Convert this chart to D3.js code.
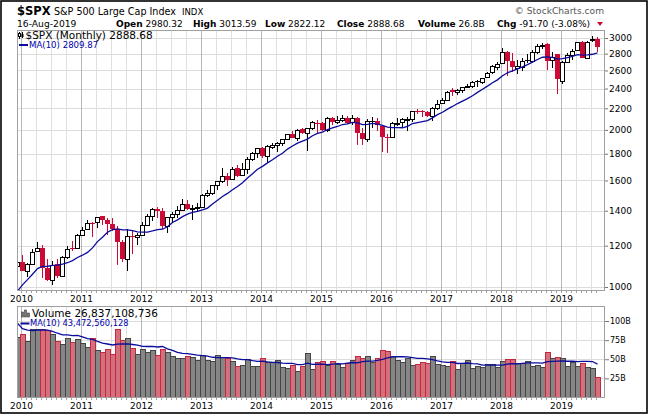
<!DOCTYPE html>
<html>
<head>
<meta charset="utf-8">
<script src="https://cdn.jsdelivr.net/npm/d3@7"></script>
<style>
  body { margin: 0; background: #fff; }
  svg { display: block; }
  text { font-family: "DejaVu Sans", Verdana, sans-serif; }
</style>
</head>
<body>
<div id="wrapper"></div>
<script>
// 1. Data (monthly $SPX, Dec 2009 .. 16-Aug-2019)

const opens = [1098.89,
  1116.56, 1073.89, 1105.36, 1171.23, 1188.58, 1087.30, 1031.10, 1107.53, 1049.72, 1143.49, 1185.71, 1186.60,
  1257.62, 1289.14, 1328.64, 1329.48, 1365.21, 1345.20, 1320.64, 1292.59, 1219.12, 1131.21, 1251.00, 1246.91,
  1258.86, 1312.45, 1365.90, 1408.47, 1397.86, 1309.87, 1362.33, 1379.32, 1406.54, 1440.90, 1412.20, 1416.18,
  1426.19, 1498.11, 1514.68, 1569.18, 1597.55, 1631.71, 1609.78, 1689.42, 1635.95, 1682.41, 1758.70, 1806.55,
  1845.86, 1782.68, 1857.68, 1873.96, 1884.39, 1923.87, 1962.29, 1929.80, 2004.07, 1971.44, 2018.21, 2065.78,
  2058.90, 1996.67, 2105.23, 2067.63, 2087.38, 2108.64, 2067.00, 2104.49, 1970.09, 1919.65, 2080.76, 2082.93,
  2038.20, 1936.94, 1937.09, 2056.62, 2067.17, 2093.94, 2099.34, 2173.15, 2171.33, 2164.33, 2128.68, 2200.17,
  2251.57, 2285.59, 2380.13, 2362.34, 2388.50, 2415.65, 2431.39, 2477.10, 2474.42, 2521.20, 2583.21, 2645.10,
  2683.73, 2816.45, 2715.22, 2633.45, 2642.96, 2718.70, 2704.95, 2821.17, 2896.96, 2926.29, 2717.58, 2790.50,
  2476.96, 2702.32, 2780.67, 2848.63, 2952.33, 2751.53, 2971.41, 2980.32];

const highs = [1130.38,
  1150.45, 1112.42, 1180.16, 1219.80, 1205.13, 1131.23, 1120.95, 1129.24, 1148.90, 1196.14, 1227.08, 1262.60,
  1302.67, 1344.07, 1332.28, 1364.56, 1370.58, 1356.48, 1356.48, 1307.38, 1229.29, 1292.66, 1277.55, 1269.37,
  1333.47, 1378.04, 1419.15, 1422.38, 1415.32, 1363.46, 1391.74, 1426.68, 1474.51, 1470.96, 1434.27, 1448.00,
  1509.94, 1530.94, 1570.28, 1597.57, 1687.18, 1654.19, 1698.78, 1709.67, 1729.86, 1775.22, 1813.55, 1849.44,
  1850.84, 1867.92, 1883.97, 1897.28, 1924.03, 1968.17, 1991.39, 2005.04, 2019.26, 2018.19, 2075.76, 2093.55,
  2072.36, 2119.59, 2117.52, 2125.92, 2134.72, 2129.87, 2132.82, 2112.66, 2020.86, 2094.32, 2116.48, 2104.27,
  2038.20, 1962.96, 2072.21, 2111.05, 2103.48, 2120.55, 2177.09, 2193.81, 2187.87, 2169.60, 2214.10, 2277.53,
  2300.99, 2371.54, 2400.98, 2398.16, 2418.71, 2453.82, 2484.04, 2490.87, 2519.44, 2582.98, 2657.74, 2694.97,
  2872.87, 2835.96, 2801.90, 2717.49, 2742.24, 2791.47, 2848.03, 2916.50, 2940.91, 2939.86, 2815.15, 2800.18,
  2708.95, 2813.49, 2860.31, 2949.52, 2954.13, 2964.15, 3027.98, 3013.59];

const lows = [1085.89,
  1071.59, 1044.50, 1105.36, 1170.69, 1040.78, 1028.33, 1010.91, 1039.70, 1049.72, 1131.87, 1173.00, 1186.60,
  1257.62, 1289.14, 1249.05, 1294.70, 1311.80, 1258.07, 1282.86, 1101.54, 1114.22, 1074.77, 1158.66, 1202.37,
  1258.86, 1312.45, 1340.03, 1357.38, 1291.98, 1266.74, 1325.41, 1354.65, 1396.56, 1403.28, 1343.35, 1398.11,
  1426.19, 1485.01, 1501.48, 1536.03, 1581.28, 1560.33, 1604.57, 1627.47, 1633.41, 1646.47, 1746.20, 1767.99,
  1770.45, 1737.92, 1834.44, 1814.36, 1859.79, 1915.98, 1930.67, 1904.78, 1964.04, 1820.66, 2001.01, 1972.56,
  1988.12, 1980.90, 2039.69, 2048.38, 2067.93, 2056.32, 2044.02, 1867.01, 1871.91, 1893.70, 2019.39, 1993.26,
  1812.29, 1810.10, 1937.09, 2033.80, 2025.91, 1991.68, 2074.02, 2147.58, 2119.12, 2114.72, 2083.79, 2187.44,
  2245.13, 2271.65, 2322.25, 2328.95, 2352.72, 2405.70, 2407.70, 2417.35, 2446.55, 2520.40, 2557.45, 2605.52,
  2682.36, 2532.69, 2585.89, 2553.80, 2594.62, 2691.99, 2698.95, 2796.34, 2864.12, 2603.54, 2631.09, 2346.58,
  2443.96, 2681.83, 2722.27, 2848.63, 2750.52, 2728.81, 2952.22, 2822.12];

const closes = [1115.10,
  1073.87, 1104.49, 1169.43, 1186.69, 1089.41, 1030.71, 1101.60, 1049.33, 1141.20, 1183.26, 1180.55, 1257.64,
  1286.12, 1327.22, 1325.83, 1363.61, 1345.20, 1320.64, 1292.28, 1218.89, 1131.42, 1253.30, 1246.96, 1257.60,
  1312.41, 1365.68, 1408.47, 1397.91, 1310.33, 1362.16, 1379.32, 1406.58, 1440.67, 1412.16, 1416.18, 1426.19,
  1498.11, 1514.68, 1569.19, 1597.57, 1630.74, 1606.28, 1685.73, 1632.97, 1681.55, 1756.54, 1805.81, 1848.36,
  1782.59, 1859.45, 1872.34, 1883.95, 1923.57, 1960.23, 1930.67, 2003.37, 1972.29, 2018.05, 2067.56, 2058.90,
  1994.99, 2104.50, 2067.89, 2085.51, 2107.39, 2063.11, 2103.84, 1972.18, 1920.03, 2079.36, 2080.41, 2043.94,
  1940.24, 1932.23, 2059.74, 2065.30, 2096.95, 2098.86, 2173.60, 2170.95, 2168.27, 2126.15, 2198.81, 2238.83,
  2278.87, 2363.64, 2362.72, 2384.20, 2411.80, 2423.41, 2470.30, 2471.65, 2519.36, 2575.26, 2647.58, 2673.61,
  2823.81, 2713.83, 2640.87, 2648.05, 2705.27, 2718.37, 2816.29, 2901.52, 2913.98, 2711.74, 2760.17, 2506.85,
  2704.10, 2784.49, 2834.40, 2945.83, 2752.06, 2941.76, 2980.38, 2888.68];

// closes Mar..Nov 2009, only needed to start the 10-month average
const priorCloses = [797.87, 872.81, 919.14, 919.32, 987.48, 1020.62, 1057.08, 1036.19, 1095.63];

// volume, billions of shares
const volumes = [79.5,
  82.5, 74, 89, 89, 90, 88, 82.5, 74, 70.5, 78, 73, 77,
  71.5, 66, 78, 62, 60, 63.5, 57.5, 89, 75, 77.5, 64.5, 57.5,
  63, 59, 62, 55.5, 63.5, 59.5, 54, 51.5, 52, 54, 53, 49.5,
  55, 49.5, 48, 55.5, 53, 51.5, 48, 41.5, 43, 50.5, 41, 41,
  51.5, 46, 46, 49, 40, 38.5, 42.5, 35, 41, 58.5, 37, 47,
  47.5, 42.5, 47.5, 43.5, 40, 45, 49, 54.5, 51.5, 54.5, 47, 51.5,
  62.5, 61, 54, 49.5, 47, 51.5, 42.5, 44, 47, 45, 54, 44,
  42, 41, 47.5, 37.5, 44.5, 48.5, 38.5, 41, 40, 43.5, 43.5, 40,
  47.5, 50.5, 50.5, 44.5, 45, 47.5, 41, 42, 40, 60, 52, 53,
  52, 41.5, 47, 41, 45, 40, 38.5, 26.84];

// volume MA(10) for Dec 2009 .. Aug 2010 (earlier bars are off-chart)
const volMaEarly = [97, 90, 88, 87.5, 88, 88.5, 88, 86.5, 84];

const yearLabels = ["2010", "2011", "2012", "2013", "2014", "2015", "2016", "2017", "2018", "2019"];
const priceTicks = [1000, 1200, 1400, 1600, 1800, 2000, 2200, 2400, 2600, 2800, 3000];
const volTicks = [25, 50, 75, 100];

const quoteLabels = ["Open", "High", "Low", "Close", "Volume", "Chg"];
const quoteValues = ["2980.32", "3013.59", "2822.12", "2888.68", "26.8B", "-91.70 (-3.08%)"];

function drawChart() {
  // 2. Dimensions

  const dims = {
    width: 650,
    height: 415,
    left: 17,
    right: 605,
    priceTop: 30.5,
    priceBottom: 290.5,
    volTop: 306.5,
    volBottom: 397.5,
  };

  const upColor = "#000";
  const downColor = "#cc0a35";
  const maColor = "#0b0b9c";

  const months = d3
    .timeMonth.range(new Date(2009, 11, 1), new Date(2019, 8, 1))
    .map(d3.timeFormat("%Y-%m"));

  const allCloses = priorCloses.concat(closes);
  const candles = months.map((m, i) => ({
    month: m,
    open: opens[i],
    high: highs[i],
    low: lows[i],
    close: closes[i],
    prev: allCloses[i + priorCloses.length - 1],
    volume: volumes[i],
  }));
  const priceMa = months.map((m, i) => d3.mean(allCloses.slice(i, i + 10)));
  const volMa = months.map((m, i) =>
    i < volMaEarly.length ? volMaEarly[i] : d3.mean(volumes.slice(i - 9, i + 1))
  );

  // 3. Canvas

  const svg = d3
    .select("#wrapper")
    .append("svg")
    .attr("width", dims.width)
    .attr("height", dims.height);

  svg.append("rect").attr("width", dims.width).attr("height", dims.height).attr("fill", "#fff");

  const defs = svg.append("defs");
  defs.append("clipPath").attr("id", "clip-price").append("rect")
    .attr("x", dims.left).attr("y", dims.priceTop)
    .attr("width", dims.right - dims.left).attr("height", dims.priceBottom - dims.priceTop);
  defs.append("clipPath").attr("id", "clip-vol").append("rect")
    .attr("x", dims.left).attr("y", dims.volTop)
    .attr("width", dims.right - dims.left).attr("height", dims.volBottom - dims.volTop);

  // 4. Scales

  const xScale = d3.scaleBand().domain(months).range([15, 600]);
  const yPrice = d3.scaleLog().domain([1000, 3000]).range([287, 38]);
  const yVol = d3.scaleLinear().domain([0, 100]).range([dims.volBottom, 321]);

  const quarterMonths = months.filter((m) => ["01", "04", "07", "10"].includes(m.slice(5)));
  const snap = (v) => Math.round(v) + 0.5;

  // 5. Grids

  const drawVGrid = (g, top, bottom) => {
    g.selectAll(".vgrid")
      .data(quarterMonths)
      .join("line")
      .attr("class", "vgrid")
      .attr("x1", (d) => xScale(d) + 1.5)
      .attr("x2", (d) => xScale(d) + 1.5)
      .attr("y1", top)
      .attr("y2", bottom)
      .attr("stroke", (d) => (d.endsWith("-01") ? "#b8b8b8" : "#e0e0e0"));
  };

  const priceGrid = svg.append("g");
  priceGrid.selectAll(".hgrid")
    .data(priceTicks)
    .join("line")
    .attr("x1", dims.left).attr("x2", dims.right)
    .attr("y1", (d) => snap(yPrice(d))).attr("y2", (d) => snap(yPrice(d)))
    .attr("stroke", "#dcdcdc");
  drawVGrid(priceGrid, dims.priceTop, dims.priceBottom);

  const volGrid = svg.append("g");
  volGrid.selectAll(".hgrid")
    .data(volTicks)
    .join("line")
    .attr("x1", dims.left).attr("x2", dims.right)
    .attr("y1", (d) => snap(yVol(d))).attr("y2", (d) => snap(yVol(d)))
    .attr("stroke", "#dcdcdc");
  drawVGrid(volGrid, dims.volTop, dims.volBottom);

  // 6. Candles

  const price = svg.append("g").attr("clip-path", "url(#clip-price)");
  const colorOf = (d) => (d.close < d.prev ? downColor : upColor);

  price.selectAll(".wick")
    .data(candles)
    .join("line")
    .attr("x1", (d) => xScale(d.month) + 2.5)
    .attr("x2", (d) => xScale(d.month) + 2.5)
    .attr("y1", (d) => Math.round(yPrice(d.high)))
    .attr("y2", (d) => Math.round(yPrice(d.low)))
    .attr("stroke", colorOf)
    .attr("stroke-width", 1);

  price.selectAll(".body")
    .data(candles)
    .join("rect")
    .each(function (d) {
      const top = Math.round(yPrice(Math.max(d.open, d.close)));
      const bottom = Math.round(yPrice(Math.min(d.open, d.close)));
      const hollow = d.close > d.open;
      const sel = d3.select(this);
      if (hollow) {
        sel.attr("x", xScale(d.month) + 0.5)
          .attr("y", top + 0.5)
          .attr("width", 4)
          .attr("height", Math.max(bottom - top, 1))
          .attr("fill", "#fff")
          .attr("stroke", colorOf(d));
      } else {
        sel.attr("x", xScale(d.month))
          .attr("y", top)
          .attr("width", 5)
          .attr("height", Math.max(bottom - top, 1))
          .attr("fill", colorOf(d));
      }
    });

  const maLine = d3.line()
    .x((d, i) => xScale(months[i]) + 2.5)
    .y((d) => yPrice(d));

  price.append("path")
    .datum(priceMa)
    .attr("d", maLine)
    .attr("fill", "none")
    .attr("stroke", maColor)
    .attr("stroke-width", 1.3);

  // 7. Volume

  const vol = svg.append("g").attr("clip-path", "url(#clip-vol)");
  vol.selectAll(".vbar")
    .data(candles)
    .join("rect")
    .attr("x", (d) => xScale(d.month) + 0.5)
    .attr("y", (d) => snap(yVol(d.volume)))
    .attr("width", 5)
    .attr("height", (d) => dims.volBottom - snap(yVol(d.volume)))
    .attr("fill", (d) => (d.close < d.prev ? "#d4707c" : "#868686"))
    .attr("stroke", (d) => (d.close < d.prev ? "#c2283f" : "#454545"))
    .attr("stroke-width", 1);

  const volLine = d3.line()
    .x((d, i) => xScale(months[i]) + 2.5)
    .y((d) => yVol(d));

  vol.append("path")
    .datum(volMa)
    .attr("d", volLine)
    .attr("fill", "none")
    .attr("stroke", maColor)
    .attr("stroke-width", 1.3);

  // 8. Panel frames and axes

  [[dims.priceTop, dims.priceBottom], [dims.volTop, dims.volBottom]].forEach(([t, b]) => {
    svg.append("rect")
      .attr("x", dims.left + 0.5).attr("y", t)
      .attr("width", dims.right - dims.left - 1).attr("height", b - t)
      .attr("fill", "none").attr("stroke", "#a0a0a0");
  });

  [dims.priceBottom, dims.volBottom].forEach((yb) => {
    svg.append("g").selectAll("line")
      .data(months.filter((m, i) => i > 0))
      .join("line")
      .attr("x1", (d) => xScale(d) + 1.5).attr("x2", (d) => xScale(d) + 1.5)
      .attr("y1", yb).attr("y2", yb + 2.5)
      .attr("stroke", "#a0a0a0");
  });

  const priceAxis = d3.axisRight(yPrice)
    .tickValues(priceTicks)
    .tickSize(3)
    .tickPadding(1)
    .tickFormat(d3.format("d"));
  svg.append("g")
    .attr("transform", `translate(${dims.right},0)`)
    .call(priceAxis)
    .call((g) => g.select(".domain").remove())
    .call((g) => g.selectAll("line").attr("stroke", "#777"))
    .call((g) => g.selectAll("text").attr("fill", "#000"))
    .attr("font-family", "DejaVu Sans")
    .attr("font-size", 9);

  const volAxis = d3.axisRight(yVol)
    .tickValues(volTicks)
    .tickSize(4)
    .tickPadding(1)
    .tickFormat((d) => d + "B");
  svg.append("g")
    .attr("transform", `translate(${dims.right},0)`)
    .call(volAxis)
    .call((g) => g.select(".domain").remove())
    .call((g) => g.selectAll("line").attr("stroke", "#777"))
    .call((g) => g.selectAll("text").attr("fill", "#000"))
    .attr("font-family", "DejaVu Sans")
    .attr("font-size", 8);

  [302, 409].forEach((yb) => {
    svg.append("g").selectAll("text")
      .data(yearLabels)
      .join("text")
      .attr("x", (d) => xScale(d + "-01") + 1.5)
      .attr("y", yb)
      .attr("text-anchor", "middle")
      .attr("font-size", 9)
      .text((d) => d);
  });

  // 9. Legends

  const icon = svg.append("g");
  icon.append("line").attr("x1", 19.5).attr("x2", 19.5).attr("y1", 32).attr("y2", 39).attr("stroke", "#000");
  icon.append("rect").attr("x", 18.5).attr("y", 33.5).attr("width", 2).attr("height", 3).attr("fill", "#fff").attr("stroke", "#000");
  icon.append("line").attr("x1", 22.5).attr("x2", 22.5).attr("y1", 32).attr("y2", 38).attr("stroke", "#000");
  icon.append("rect").attr("x", 21.5).attr("y", 34).attr("width", 2).attr("height", 3).attr("fill", "#000");

  svg.append("text")
    .attr("x", 25.5).attr("y", 39)
    .attr("font-family", "DejaVu Sans Mono")
    .attr("font-size", 10.5)
    .text("$SPX (Monthly) " + closes[closes.length - 1].toFixed(2));
  svg.append("rect").attr("x", 19).attr("y", 44).attr("width", 9).attr("height", 2).attr("fill", maColor);
  svg.append("text")
    .attr("x", 29).attr("y", 48)
    .attr("font-size", 8.6)
    .attr("fill", "#0000aa")
    .text("MA(10) " + priceMa[priceMa.length - 1].toFixed(2));

  const volIcon = svg.append("g");
  [[21.5, 312], [24.5, 310], [27.5, 313]].forEach(([x, y]) => {
    volIcon.append("rect").attr("x", x).attr("y", y).attr("width", 2).attr("height", 317 - y)
      .attr("fill", "#777").attr("stroke", "#444").attr("stroke-width", 0.6);
  });
  svg.append("text")
    .attr("x", 32).attr("y", 317)
    .attr("font-family", "DejaVu Sans Mono")
    .attr("font-size", 10.5)
    .text("Volume 26,837,108,736");
  svg.append("rect").attr("x", 20.5).attr("y", 322.5).attr("width", 9).attr("height", 2).attr("fill", maColor);
  svg.append("text")
    .attr("x", 30).attr("y", 325.5)
    .attr("font-size", 8.3)
    .attr("fill", "#0000aa")
    .text("MA(10) 43,472,560,128");

  // 10. Header

  svg.append("text").attr("x", 17).attr("y", 15)
    .attr("font-size", 11.5).attr("font-weight", "bold").text("$SPX");
  svg.append("text").attr("x", 54).attr("y", 15)
    .attr("font-size", 9.6).text("S&P 500 Large Cap Index");
  svg.append("text").attr("x", 182).attr("y", 15)
    .attr("font-size", 8.5).text("INDX");
  svg.append("text").attr("x", 17).attr("y", 27)
    .attr("font-size", 9.2).text("16-Aug-2019");

  const labelX = [116, 193, 265, 337, 418, 497];
  quoteLabels.forEach((label, i) => {
    const t = svg.append("text").attr("x", labelX[i]).attr("y", 27).attr("font-size", 9);
    t.append("tspan").attr("font-weight", "bold").text(label);
    t.append("tspan").text("\u00A0" + quoteValues[i]);
  });
  svg.append("path").attr("d", "M597,22L603,22L600,26Z").attr("fill", downColor);

  svg.append("text").attr("x", 604).attr("y", 14)
    .attr("text-anchor", "end")
    .attr("font-size", 9.1)
    .attr("fill", "#555")
    .text("\u00A9 StockCharts.com");

  // outer frame
  svg.append("rect")
    .attr("x", 1).attr("y", 1)
    .attr("width", 646).attr("height", 412)
    .attr("fill", "none")
    .attr("stroke", "#000")
    .attr("stroke-width", 1.6);
}
drawChart();
</script>
</body>
</html>
